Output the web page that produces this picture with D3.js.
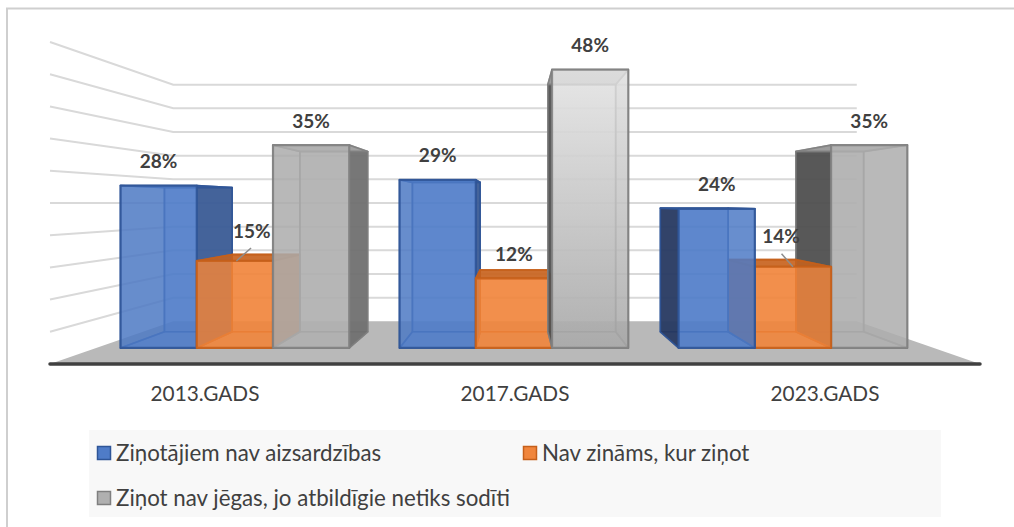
<!DOCTYPE html>
<html lang="en">
<head>
  <meta charset="UTF-8">
  <title>Chart</title>
  <script src="https://d3js.org/d3.v7.min.js"></script>
  <style>
    html, body { margin: 0; background: #fff; }
    text { font-family: Lato, "Open Sans", sans-serif; }
  </style>
</head>
<body>
  <div id="root"></div>
  <script>
    // data
    const years = ['2013.GADS', '2017.GADS', '2023.GADS']
    const seriesNames = ['Ziņotājiem nav aizsardzības', 'Nav zināms, kur ziņot', 'Ziņot nav jēgas, jo atbildīgie netiks sodīti']
    const noProtection = [28, 29, 24]
    const notKnown = [15, 12, 14]
    const noPoint = [35, 48, 35]
    const valueTicks = [0, 5, 10, 15, 20, 25, 30, 35, 40, 45, 50]

    const allSeries = [noProtection, notKnown, noPoint]

    const W = 1014, H = 527
    const svg = d3.select('#root').append('svg')
      .attr('width', W).attr('height', H)
      .style('display', 'block')

    const defs = svg.append('defs')
    const grad = defs.append('linearGradient').attr('id', 'grayTall').attr('x1', 0).attr('x2', 0).attr('y1', 0).attr('y2', 1)
    grad.append('stop').attr('offset', 0).attr('stop-color', '#e4e4e4')
    grad.append('stop').attr('offset', 1).attr('stop-color', '#a9a9a9')

    // frame, only top and left are visible in the source
    svg.append('path')
      .attr('d', `M7,${H} V8.5 H${W}`)
      .attr('fill', 'none').attr('stroke', '#cfcfcf').attr('stroke-width', 2)

    // scales on the front plane, then a simple perspective onto the vanishing point
    const x0 = d3.scaleBand().domain(years).range([50, 980])
    const x1 = d3.scaleBand().domain(d3.range(3)).range([-1.2, x0.bandwidth() - 1.2]).paddingInner(0).paddingOuter(0.33)
    const y = d3.scaleLinear().domain([0, 50]).range([364, 42])
    const depth = d3.scaleLinear().domain([0, 1]).range([1, 0.735])
    const vanishX = (x0.range()[0] + x0.range()[1]) / 2
    const vanishY = y(25)
    const barFront = 0.377, barBack = 0.755

    function project(px, v, z) {
      const s = depth(z)
      return [vanishX + (px - vanishX) * s, vanishY + (y(v) - vanishY) * s]
    }
    const poly = pts => 'M' + pts.map(p => p.join(',')).join('L') + 'Z'

    // floor
    const left = x0.range()[0], right = x0.range()[1]
    svg.append('path')
      .attr('d', poly([project(left, 0, 0), project(right, 0, 0), project(right, 0, 1), project(left, 0, 1)]))
      .attr('fill', '#b9b9b9')

    // gridlines: side wall and back wall
    const grid = svg.append('g').attr('fill', 'none').attr('stroke', '#d9d9d9').attr('stroke-width', 2)
    grid.selectAll('path').data(valueTicks.slice(1)).enter().append('path')
      .attr('d', d => 'M' + [project(left, d, 0), project(left, d, 1), project(right, d, 1)].map(p => p.join(',')).join('L'))

    // baseline
    svg.append('line')
      .attr('x1', left).attr('x2', right).attr('y1', y(0)).attr('y2', y(0))
      .attr('stroke', '#404040').attr('stroke-width', 3.5).attr('stroke-linecap', 'round')

    const palette = [
      { front: '#4f7cc8', dark: '#26365c', light: '#3a5a92', top: '#3f6db5', stroke: '#2f5597' },
      { front: '#f0853c', dark: '#c8621c', light: '#d96f28', top: '#c4621f', stroke: '#c55f1a' },
      { front: '#b0b0b0', dark: '#4a4a4a', light: '#6d6d6d', top: '#a8a8a8', stroke: '#7f7f7f' }
    ]

    // one box per value, the faces go back to front
    function drawBar(g, year, si, value) {
      const c = palette[si]
      const a = x0(year) + x1(si), b = a + x1.bandwidth()
      const box = {
        back: [project(a, 0, barBack), project(b, 0, barBack), project(b, value, barBack), project(a, value, barBack)],
        floor: [project(a, 0, barFront), project(b, 0, barFront), project(b, 0, barBack), project(a, 0, barBack)],
        left: [project(a, 0, barFront), project(a, 0, barBack), project(a, value, barBack), project(a, value, barFront)],
        right: [project(b, 0, barFront), project(b, 0, barBack), project(b, value, barBack), project(b, value, barFront)],
        top: [project(a, value, barFront), project(b, value, barFront), project(b, value, barBack), project(a, value, barBack)],
        front: [project(a, 0, barFront), project(b, 0, barFront), project(b, value, barFront), project(a, value, barFront)]
      }
      const tall = value > 40
      const face = (pts, fill, op, sw) => g.append('path').attr('d', poly(pts))
        .attr('fill', fill).attr('fill-opacity', op)
        .attr('stroke', c.stroke).attr('stroke-opacity', 0.85).attr('stroke-width', sw).attr('stroke-linejoin', 'round')

      face(box.back, tall ? 'url(#grayTall)' : c.front, 0.55, 1.6)
      face(box.floor, c.front, 0.5, 1.6)
      // only the side facing the viewer gets the dark shade
      const cx = (a + b) / 2
      face(box.left, c.dark, cx > vanishX ? 0.9 : 0.2, 1.6)
      face(box.right, c.light, cx < vanishX ? 0.9 : 0.2, 1.6)
      face(box.top, c.top, 0.85, 1.8)
      face(box.front, tall ? 'url(#grayTall)' : c.front, 0.82, 2.2)
    }

    const barsG = svg.append('g')
    years.forEach((year, i) => {
      // left of the centre the outer bar is further away, right of it the order flips
      const order = i === 2 ? [2, 1, 0] : [0, 1, 2]
      order.forEach(si => drawBar(barsG.append('g'), year, si, allSeries[si][i]))
    })

    // data labels
    const nudge = { '0-1': [17, -6], '2-1': [-12, -6] }
    const labels = svg.append('g')
      .attr('text-anchor', 'middle').attr('font-weight', 700).attr('font-size', 19).attr('fill', '#404040')
    years.forEach((year, i) => {
      allSeries.forEach((vals, si) => {
        const v = vals[i]
        const cx = x0(year) + x1(si) + x1.bandwidth() / 2
        const [px, py] = project(cx, v, barFront)
        const n = nudge[i + '-' + si] || [0, 0]
        labels.append('text')
          .attr('x', px + n[0]).attr('y', py - 24 + n[1])
          .attr('dy', '0.35em')
          .text(v + '%')
        if (nudge[i + '-' + si]) {
          svg.append('line')
            .attr('x1', px + n[0] * 0.95).attr('y1', py - 13)
            .attr('x2', px + (i === 0 ? 1.5 : 0)).attr('y2', py)
            .attr('stroke', '#8c8c8c').attr('stroke-width', 1.5)
        }
      })
    })

    // category axis
    const axisG = svg.append('g').attr('transform', 'translate(0,394)')
      .call(d3.axisBottom(x0).tickSize(0).tickPadding(0))
    axisG.select('.domain').remove()
    axisG.selectAll('text')
      .attr('y', 0).attr('dy', '0.35em')
      .style('font-family', 'Lato, "Open Sans", sans-serif')
      .attr('font-size', 20.8).attr('fill', '#404040')

    // legend
    svg.append('rect').attr('x', 89).attr('y', 430).attr('width', 852).attr('height', 87).attr('fill', '#f8f8f8')
    const legendPos = [[97, 453], [523, 453], [97, 498]]
    const legend = svg.append('g').selectAll('g').data(seriesNames).enter().append('g')
      .attr('transform', (d, i) => `translate(${legendPos[i][0]},${legendPos[i][1]})`)
    legend.append('rect')
      .attr('x', 0.5).attr('y', -6.5).attr('width', 13).attr('height', 13)
      .attr('fill', (d, i) => palette[i].front)
      .attr('stroke', (d, i) => palette[i].stroke).attr('stroke-width', 1.5)
    legend.append('text')
      .attr('x', 19).attr('dy', '0.35em')
      .attr('font-size', 22.3).attr('fill', '#404040')
      .text(d => d)
  </script>
</body>
</html>
